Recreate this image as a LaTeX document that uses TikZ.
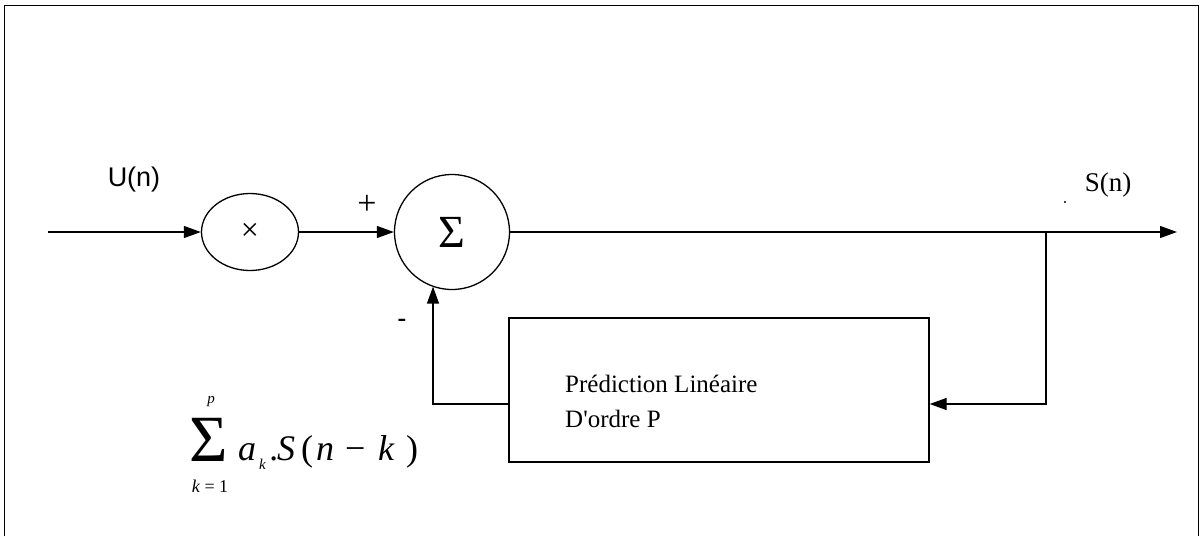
\documentclass[tikz,border=0pt]{standalone}
\usepackage{fontspec}
\setmainfont{Liberation Serif}
\newfontfamily\arialf{Liberation Sans}
\usetikzlibrary{shapes.geometric,arrows.meta,calc}
\begin{document}
\begin{tikzpicture}[x=1pt,y=-1pt,
  wire/.style={line width=1.3pt},
  arr/.style={wire,-{Triangle[length=17pt,width=12pt]}},
  blk/.style={draw,line width=1.3pt,inner sep=0pt},
  lbl/.style={inner sep=0pt,font=\fontsize{26}{30}\selectfont},
  fml/.style={inner sep=0pt,anchor=base west,font=\fontsize{36}{36}\selectfont\itshape},
  fmu/.style={fml,font=\fontsize{36}{36}\selectfont},
  frame/.style={line width=0.9pt}]
\useasboundingbox (0,0) rectangle (1203,536);
\draw[frame] (4,536) -- (4,5) -- (1198,5) -- (1198,536);

% blocks
\node[blk,ellipse,minimum width=97pt,minimum height=77pt] (mul) at (250,232) {\fontsize{32}{32}\selectfont ×};
\node[blk,circle,minimum size=115pt] (sum) at (452,232) {\fontsize{46}{46}\selectfont Σ};
\node[blk,rectangle,minimum width=420pt,minimum height=144pt] (pred) at (719,390) {};
\node[lbl,anchor=base west,font=\fontsize{25}{30}\selectfont] (t1) at (565,392) {Prédiction Linéaire};
\node[lbl,anchor=base west,font=\fontsize{25}{30}\selectfont] (t2) at (565,427) {D\textquotesingle ordre P};

% coordinates
\coordinate (in) at (48,232);
\coordinate (out) at (1177,232);
\coordinate (br) at (1046,232);
\coordinate (fbR) at (1046,404);
\coordinate (fbL) at (433,404);

% connectors
\draw[arr] (in) -- (mul.west);
\draw[arr] (mul.east) -- (sum.west);
\draw[arr] (sum.east) -- (out);
\draw[arr] (br) -- (fbR) -- (pred.east |- fbR);
\draw[arr] (pred.west |- fbL) -- (fbL) -- (fbL |- sum.250);

% labels
\node[lbl,font=\arialf\fontsize{27}{27}\selectfont] (U) at (134,180) {U(n)};
\node[lbl,font=\fontsize{34}{34}\selectfont] (plus) at (367,205) {+};
\node[lbl,font=\bfseries\fontsize{26}{26}\selectfont] (minus) at (402,323) {-};
\node[lbl,font=\fontsize{27}{27}\selectfont] (S) at (1108,185) {S(n)};
\node[fill,circle,inner sep=0pt,minimum size=2.2pt] (dot) at (1065,202) {};

% formula
\node[lbl,font=\fontsize{66}{66}\selectfont] (sig) at (209,440) {Σ};
\node[lbl,font=\fontsize{15}{15}\selectfont\itshape] (pp) at (211,402) {p};
\node[lbl,font=\fontsize{18}{18}\selectfont] (kk) at (210,486) {\textit{k} = 1};
\node[fml] (fa) at (238,460) {a};
\node[fml,font=\fontsize{15}{15}\selectfont\itshape] (fk) at (259,469) {k};
\node[fml] (fdot) at (270,460) {.};
\node[fml] (fS) at (277,460) {S};
\node[fmu] (fp1) at (301,460) {(};
\node[fml] (fn) at (316,460) {n};
\node[fmu] (fm) at (345,460) {−};
\node[fml] (fk2) at (378,460) {k};
\node[fmu] (fp2) at (406,460) {)};
\end{tikzpicture}
\end{document}
